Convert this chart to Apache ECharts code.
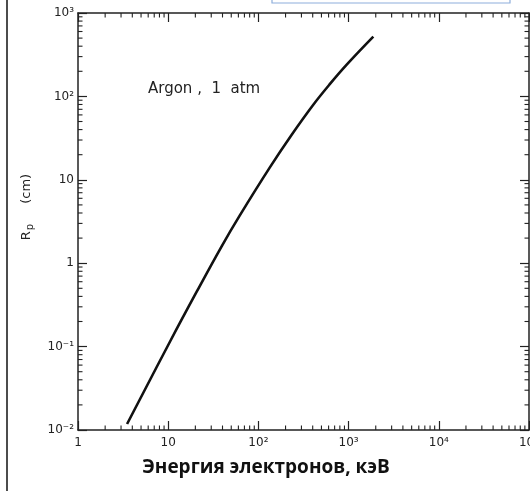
<!DOCTYPE html>
<html>
<head>
<meta charset="utf-8">
<script src="https://cdn.jsdelivr.net/npm/echarts@6/dist/echarts.min.js"></script>
<style>
  html, body { margin: 0; padding: 0; background: #fff; }
  #chart { width: 530px; height: 491px; }
</style>
</head>
<body>
<div id="chart"></div>
<script>
// Practical range of electrons in argon at 1 atm
const energyKeV = [3.5, 10.7, 20.7, 39, 62, 134, 234, 406, 622, 953, 1880];
const rangeCm   = [0.0118, 0.12, 0.455, 1.585, 3.72, 14.1, 34.7, 79.4, 141, 240, 520];

const xTickLabels = { 1: '1', 10: '10', 100: '10²', 1000: '10³', 10000: '10⁴', 100000: '10⁵' };
const yTickLabels = { 0.01: '10⁻²', 0.1: '10⁻¹', 1: '1', 10: '10', 100: '10²', 1000: '10³' };

const xMin = 1, xMax = 1e5, yMin = 0.01, yMax = 1000;

// minor tick values (2..9 within each decade) for log axes
function minorValues(lo, hi) {
  const out = [];
  for (let d = lo; d < hi; d *= 10) {
    for (let k = 2; k <= 9; k++) out.push(+(d * k).toPrecision(6));
  }
  return out;
}
const xMinor = minorValues(xMin, xMax);
const yMinor = minorValues(yMin, yMax);

const axisColor = '#222';
const labelFont = { fontFamily: 'DejaVu Sans', fontSize: 12, color: '#222' };

function labelFor(map) {
  return function (v) {
    for (const k in map) {
      if (Math.abs(Math.log10(v) - Math.log10(+k)) < 1e-6) return map[k];
    }
    return '';
  };
}

const chart = echarts.init(document.getElementById('chart'), null, { renderer: 'canvas' });

const baseAxis = {
  type: 'log',
  logBase: 10,
  axisLine: { show: true, lineStyle: { color: axisColor, width: 1.5 } },
  axisTick: { show: true, inside: true, length: 9, lineStyle: { color: axisColor, width: 1.2 } },
  splitLine: { show: false },
  minorTick: { show: false }
};

chart.setOption({
  animation: false,
  backgroundColor: '#fff',
  grid: { left: 78, top: 13, width: 451, height: 417, containLabel: false, outerBoundsMode: 'none' },
  xAxis: [
    Object.assign({}, baseAxis, {
      position: 'bottom', min: xMin, max: xMax,
      axisLabel: Object.assign({ margin: 7, formatter: labelFor(xTickLabels), showMinLabel: true, showMaxLabel: true, hideOverlap: false }, labelFont)
    }),
    Object.assign({}, baseAxis, {
      position: 'top', min: xMin, max: xMax,
      axisLabel: { show: false }
    })
  ],
  yAxis: [
    Object.assign({}, baseAxis, {
      position: 'left', min: yMin, max: yMax,
      axisLabel: Object.assign({ margin: 4, formatter: labelFor(yTickLabels) }, labelFont)
    }),
    Object.assign({}, baseAxis, {
      position: 'right', min: yMin, max: yMax,
      axisLabel: { show: false }
    })
  ],
  graphic: [
    // page frame line on the left
    { type: 'line', shape: { x1: 7, y1: 0, x2: 7, y2: 491 }, style: { stroke: '#111', lineWidth: 1.5 }, silent: true },
    // caption box edge at the top
    { type: 'rect', shape: { x: 272, y: -10, width: 238, height: 13 }, style: { fill: '#fff', stroke: '#8eaedb', lineWidth: 1.2 }, silent: true },
    // in-plot annotation
    { type: 'text', x: 148, y: 89, style: { text: 'Argon ,  1  atm', font: '15px "DejaVu Sans"', fill: '#222', verticalAlign: 'middle' }, silent: true },
    // y-axis title
    {
      type: 'text', x: 27, y: 207, rotation: Math.PI / 2,
      style: {
        text: '{r|R}{s|p}      {r|(cm)}',
        align: 'center', verticalAlign: 'middle',
        rich: {
          r: { fontFamily: 'DejaVu Sans', fontSize: 13, fill: '#222' },
          s: { fontFamily: 'DejaVu Sans', fontSize: 10, fill: '#222', padding: [6, 0, 0, 1] }
        }
      },
      silent: true
    },
    // x-axis title
    {
      type: 'text', x: 266, y: 468,
      style: {
        text: 'Энергия электронов, кэВ',
        font: 'bold 19px "Open Sans"', fill: '#111',
        align: 'center', verticalAlign: 'middle'
      },
      silent: true
    }
  ],
  series: [
    {
      // minor ticks along the bottom and top edges
      type: 'custom',
      xAxisIndex: 0, yAxisIndex: 0,
      data: xMinor.map(v => [v, yMin]),
      clip: false,
      silent: true,
      renderItem: function (params, api) {
        const b = api.coord([api.value(0), yMin]);
        const t = api.coord([api.value(0), yMax]);
        const st = { stroke: axisColor, lineWidth: 1.1 };
        return {
          type: 'group',
          children: [
            { type: 'line', shape: { x1: b[0], y1: b[1], x2: b[0], y2: b[1] - 4.5 }, style: st },
            { type: 'line', shape: { x1: t[0], y1: t[1], x2: t[0], y2: t[1] + 4.5 }, style: st }
          ]
        };
      }
    },
    {
      // minor ticks along the left and right edges
      type: 'custom',
      xAxisIndex: 0, yAxisIndex: 0,
      data: yMinor.map(v => [xMin, v]),
      clip: false,
      silent: true,
      renderItem: function (params, api) {
        const l = api.coord([xMin, api.value(1)]);
        const r = api.coord([xMax, api.value(1)]);
        const st = { stroke: axisColor, lineWidth: 1.1 };
        return {
          type: 'group',
          children: [
            { type: 'line', shape: { x1: l[0], y1: l[1], x2: l[0] + 4.5, y2: l[1] }, style: st },
            { type: 'line', shape: { x1: r[0], y1: r[1], x2: r[0] - 4.5, y2: r[1] }, style: st }
          ]
        };
      }
    },
    {
      type: 'line',
      xAxisIndex: 0, yAxisIndex: 0,
      data: energyKeV.map((e, i) => [e, rangeCm[i]]),
      smooth: 0.4,
      symbol: 'none',
      lineStyle: { color: '#111', width: 2.6, cap: 'butt' }
    }
  ]
});
</script>
</body>
</html>
